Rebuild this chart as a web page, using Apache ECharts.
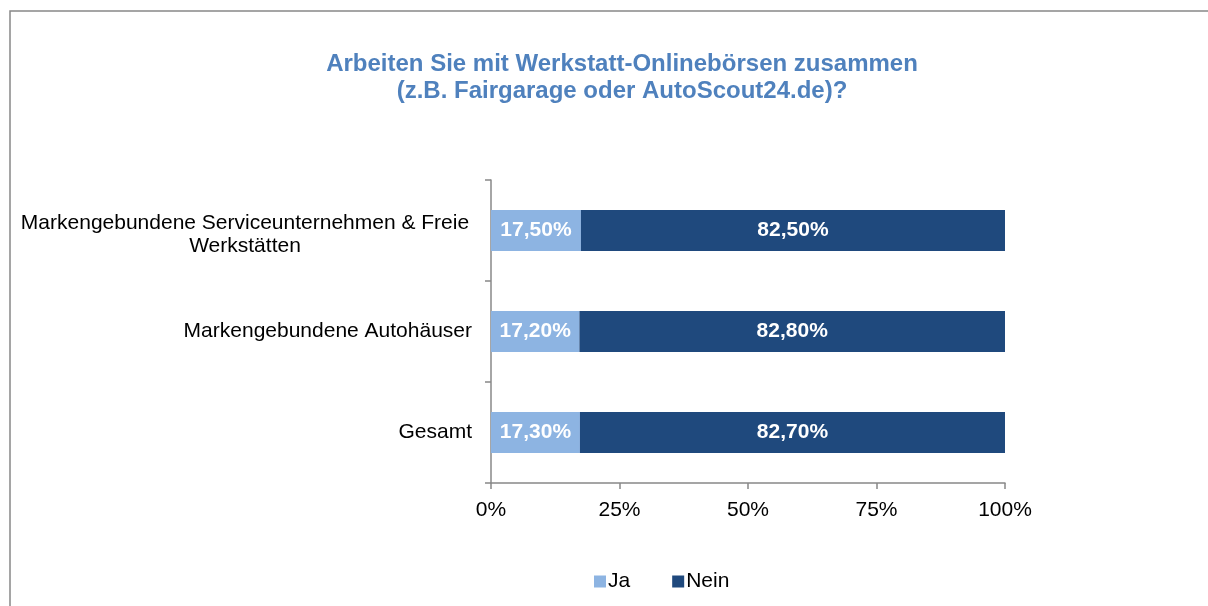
<!DOCTYPE html>
<html>
<head>
<meta charset="utf-8">
<script src="https://cdn.jsdelivr.net/npm/echarts@6/dist/echarts.min.js"></script>
<style>
  html, body { margin: 0; padding: 0; background: #fff; }
  #chart { width: 1208px; height: 606px; }
</style>
</head>
<body>
<div id="chart"></div>
<script>
// categories from bottom to top
var categories = ['Gesamt', 'Markengebundene Autohäuser', 'Markengebundene Serviceunternehmen & Freie\nWerkstätten'];
var jaValues = [17.3, 17.2, 17.5];
var neinValues = [82.7, 82.8, 82.5];
var xTicks = [0, 25, 50, 75, 100];

var fmt = function (v) {
    return v.toFixed(2).replace('.', ',') + '%';
};

// two-line label sits a bit lower than the bar centre
var catData = categories.map(function (c) {
    if (c.indexOf('\n') >= 0) {
        return { value: c, textStyle: { padding: [8, 0, 0, 0] } };
    }
    return c;
});

var myChart = echarts.init(document.getElementById('chart'));
var option = {
    backgroundColor: '#fff',
    textStyle: { fontFamily: 'Liberation Sans, Arial, sans-serif' },
    title: {
        text: 'Arbeiten Sie mit Werkstatt-Onlinebörsen zusammen\n(z.B. Fairgarage oder AutoScout24.de)?',
        left: 617,
        top: 46,
        textAlign: 'center',
        textStyle: {
            color: '#4F81BD',
            fontSize: 24,
            fontWeight: 'bold',
            lineHeight: 27,
            fontFamily: 'Liberation Sans, Arial, sans-serif'
        }
    },
    graphic: [{
        type: 'rect',
        shape: { x: 10, y: 11, width: 1210, height: 610 },
        style: { fill: null, stroke: '#888', lineWidth: 1.5 },
        silent: true
    }],
    legend: {
        data: ['Ja', 'Nein'],
        top: 566,
        left: 589,
        itemWidth: 12,
        itemHeight: 12,
        itemGap: 42,
        icon: 'rect',
        textStyle: { fontSize: 21, color: '#000', padding: [0, 0, 0, -3] }
    },
    grid: {
        left: 491,
        right: 203,
        top: 180,
        bottom: 123
    },
    xAxis: {
        type: 'value',
        min: 0,
        max: 100,
        interval: 25,
        axisLine: { show: true, lineStyle: { color: '#888', width: 1.5 } },
        axisTick: { show: true, length: 6, lineStyle: { color: '#888', width: 1.5 } },
        splitLine: { show: false },
        axisLabel: {
            margin: 17,
            fontSize: 21,
            color: '#000',
            formatter: function (v) { return xTicks.indexOf(v) >= 0 ? v + '%' : ''; }
        }
    },
    yAxis: {
        type: 'category',
        data: catData,
        axisLine: { show: true, lineStyle: { color: '#888', width: 1.5 } },
        axisTick: { show: true, length: 6, lineStyle: { color: '#888', width: 1.5 } },
        axisLabel: {
            margin: 19,
            fontSize: 21,
            color: '#000',
            lineHeight: 23,
            formatter: function (v) {
                if (v.indexOf('\n') >= 0) {
                    return v.split('\n').map(function (s) { return '{c|' + s + '}'; }).join('\n');
                }
                return v;
            },
            rich: {
                c: { width: 454, align: 'center', fontSize: 21, color: '#000', lineHeight: 23 }
            }
        }
    },
    series: [
        {
            name: 'Ja',
            type: 'bar',
            stack: 'total',
            barWidth: 41,
            data: jaValues,
            itemStyle: { color: '#8DB4E2' },
            label: {
                show: true,
                position: 'inside',
                color: '#fff',
                fontSize: 21,
                fontWeight: 'bold',
                formatter: function (p) { return fmt(p.value); }
            }
        },
        {
            name: 'Nein',
            type: 'bar',
            stack: 'total',
            barWidth: 41,
            data: neinValues,
            itemStyle: { color: '#1F497D' },
            label: {
                show: true,
                position: 'inside',
                color: '#fff',
                fontSize: 21,
                fontWeight: 'bold',
                formatter: function (p) { return fmt(p.value); }
            }
        }
    ]
};
myChart.setOption(option);
window.onresize = myChart.resize;
</script>
</body>
</html>
